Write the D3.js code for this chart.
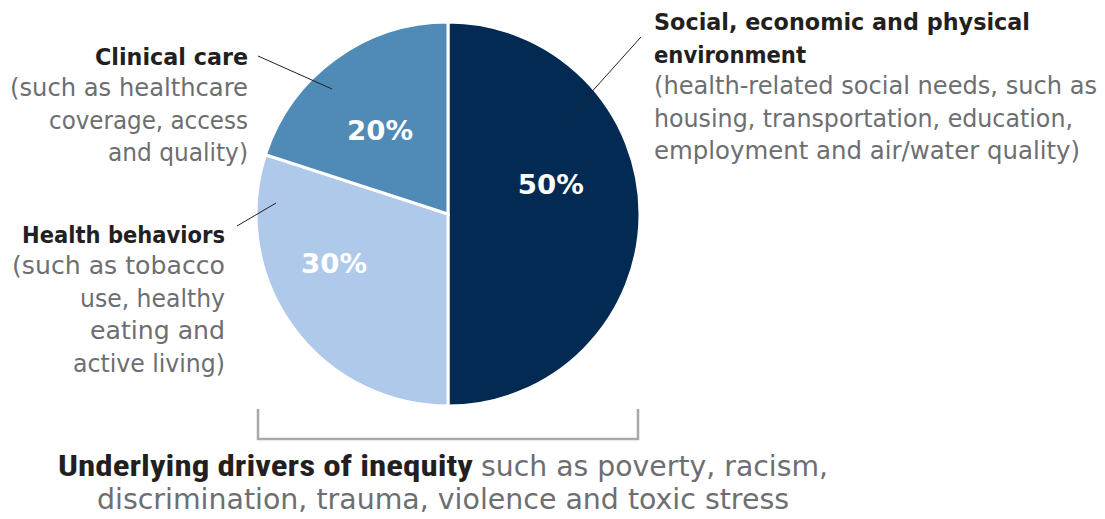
<!DOCTYPE html>
<html>
<head>
<meta charset="utf-8">
<script src="https://cdn.jsdelivr.net/npm/d3@7"></script>
<style>
  body { margin: 0; background: #fff; }
  svg { display: block; }
  .head { font-family: "DejaVu Sans", sans-serif; font-weight: 700; fill: #231f20; }
  .desc { font-family: "DejaVu Sans", sans-serif; font-weight: 400; fill: #6d6e71; }
  .pct { font-family: "DejaVu Sans", sans-serif; font-weight: 700; fill: #fff; }
</style>
</head>
<body>
<svg id="chart" width="1105" height="519"></svg>
<script>
// data
var categories = ["Social, economic and physical environment", "Health behaviors", "Clinical care"];
var values = [50, 30, 20];
var pctLabels = ["50%", "30%", "20%"];
var colors = ["#022a52", "#aec9ea", "#508ab6"];
var headLines = [
  ["Social, economic and physical", "environment"],
  ["Health behaviors"],
  ["Clinical care"]
];
var descLines = [
  ["(health-related social needs, such as", "housing, transportation, education,", "employment and air/water quality)"],
  ["(such as tobacco", "use, healthy", "eating and", "active living)"],
  ["(such as healthcare", "coverage, access", "and quality)"]
];
var footBold = "Underlying drivers of inequity";
var footLines = ["such as poverty, racism,", "discrimination, trauma, violence and toxic stress"];

var svg = d3.select("#chart"),
    cx = 448, cy = 214, r = 192;

var pie = d3.pie().sort(null).value(function(d) { return d; });
var arc = d3.arc().innerRadius(0).outerRadius(r);
var arcs = pie(values);

var g = svg.append("g").attr("transform", "translate(" + cx + "," + cy + ")");

g.selectAll("path")
  .data(arcs)
  .enter().append("path")
    .attr("d", arc)
    .attr("fill", function(d, i) { return colors[i]; })
    .attr("stroke", "#fff")
    .attr("stroke-width", 3);

// percent labels: nudge off the mid angle like the original
var pctPos = [{da: -16, rr: 107}, {da: 12.7, rr: 124}, {da: -3, rr: 108}];
g.selectAll("text.pct")
  .data(arcs)
  .enter().append("text")
    .attr("class", "pct")
    .attr("font-size", 27)
    .attr("text-anchor", "middle")
    .attr("dy", "0.36em")
    .attr("textLength", 66)
    .attr("lengthAdjust", "spacingAndGlyphs")
    .attr("transform", function(d, i) {
      var a = (d.startAngle + d.endAngle) / 2 + pctPos[i].da * Math.PI / 180;
      return "translate(" + d3.pointRadial(a, pctPos[i].rr) + ")";
    })
    .text(function(d, i) { return pctLabels[i]; });

var blocks = [
  {x: 654, y: 30, anchor: "start", line: [[641, 37], [570, 116]],
   hw: [376, 152], dw: [443, 419, 426]},
  {x: 225, y: 243, anchor: "end", line: [[237, 226], [276, 203]],
   hw: [203], dw: [213, 145, 135, 152]},
  {x: 248, y: 65, anchor: "end", line: [[258, 56], [332, 89]],
   hw: [153], dw: [238, 199, 140]}
];

blocks.forEach(function(b, i) {
  var y = b.y;
  headLines[i].forEach(function(s, k) {
    svg.append("text").attr("class", "head").attr("font-size", 23)
      .attr("text-anchor", b.anchor)
      .attr("x", b.x).attr("y", y)
      .attr("textLength", b.hw[k]).attr("lengthAdjust", "spacingAndGlyphs")
      .text(s);
    y += 33;
  });
  y -= 2;
  descLines[i].forEach(function(s, k) {
    svg.append("text").attr("class", "desc").attr("font-size", 24)
      .attr("text-anchor", b.anchor)
      .attr("x", b.x).attr("y", y)
      .attr("textLength", b.dw[k]).attr("lengthAdjust", "spacingAndGlyphs")
      .text(s);
    y += 32.5;
  });
  svg.append("line")
    .attr("x1", b.line[0][0]).attr("y1", b.line[0][1])
    .attr("x2", b.line[1][0]).attr("y2", b.line[1][1])
    .attr("stroke", "#231f20").attr("stroke-width", 1);
});

// bracket under pie
svg.append("path")
  .attr("d", "M" + (cx - r + 2) + ",409V439H" + (cx + r - 2) + "V409")
  .attr("fill", "none")
  .attr("stroke", "#a7a9ac")
  .attr("stroke-width", 2.5);

svg.append("text")
  .attr("font-family", "'Liberation Sans Narrow', 'Roboto Condensed', sans-serif")
  .attr("font-weight", 700).attr("font-size", 30).attr("fill", "#231f20")
  .attr("x", 58).attr("y", 476)
  .attr("textLength", 415).attr("lengthAdjust", "spacingAndGlyphs")
  .text(footBold);
svg.append("text").attr("class", "desc").attr("font-size", 28)
  .attr("x", 481).attr("y", 476)
  .attr("textLength", 347).attr("lengthAdjust", "spacingAndGlyphs")
  .text(footLines[0]);
svg.append("text").attr("class", "desc").attr("font-size", 28)
  .attr("text-anchor", "middle").attr("x", 443).attr("y", 509)
  .attr("textLength", 692).attr("lengthAdjust", "spacingAndGlyphs")
  .text(footLines[1]);
</script>
</body>
</html>
